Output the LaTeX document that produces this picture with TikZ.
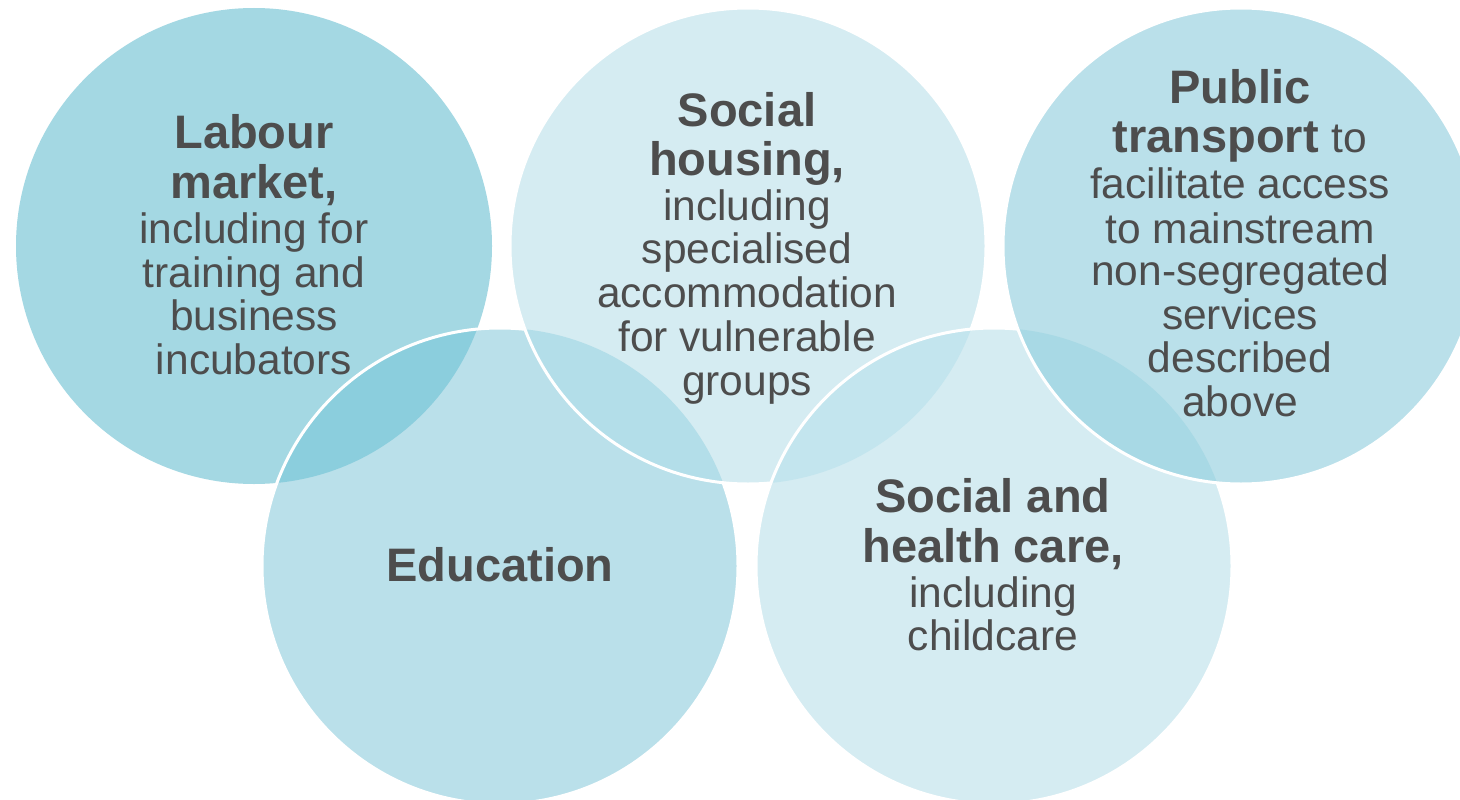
\documentclass[tikz,border=0pt]{standalone}
\usepackage{fontspec}
\setmainfont{Liberation Sans}
\definecolor{cLab}{HTML}{A4D8E3}
\definecolor{cEdu}{HTML}{BAE0EA}
\definecolor{cHou}{HTML}{D5ECF2}
\definecolor{cCar}{HTML}{D5ECF2}
\definecolor{cTra}{HTML}{BAE0EA}
\definecolor{cLabEdu}{HTML}{8BCEDD}
\definecolor{cEduHou}{HTML}{B3DEE9}
\definecolor{cHouCar}{HTML}{C3E5EE}
\definecolor{cCarTra}{HTML}{A8D9E5}
\definecolor{txtgray}{HTML}{4D4D4D}
\newcommand\bo{\fontsize{47}{50}\selectfont\bfseries}
\newcommand\rg{\fontsize{42.5}{44}\selectfont\mdseries}
\newcommand\rowx[2]{\vrule height #1pt width 0pt depth 0pt\smash{#2}\cr}
\newcommand\stackl[1]{\vtop{\offinterlineskip\halign{\hfil##\hfil\cr#1}}}
\tikzset{
  outl/.style={draw=white,line width=3pt},
  lbl/.style={anchor=base,inner sep=0pt,text=txtgray}
}
\begin{document}
\begin{tikzpicture}[x=1pt,y=-1pt]
\useasboundingbox (0,0) rectangle (1460,800);
\fill[white] (0,0) rectangle (1460,800);
\coordinate (cL) at (254,246);
\coordinate (cH) at (748,246);
\coordinate (cT) at (1241,246);
\coordinate (cE) at (500,566);
\coordinate (cC) at (994,566);
% Labour market
\fill[cLab] (cL) circle[radius=238pt];
% Education
\fill[cEdu] (cE) circle[radius=238pt];
\begin{scope}
  \clip (cE) circle[radius=238pt];
  \fill[cLabEdu] (cL) circle[radius=238pt];
\end{scope}
\draw[outl] (cE) circle[radius=238pt];
% Social housing
\fill[cHou] (cH) circle[radius=238pt];
\begin{scope}
  \clip (cH) circle[radius=238pt];
  \fill[cEduHou] (cE) circle[radius=238pt];
\end{scope}
\draw[outl] (cH) circle[radius=238pt];
% Social and health care
\fill[cCar] (cC) circle[radius=238pt];
\begin{scope}
  \clip (cC) circle[radius=238pt];
  \fill[cHouCar] (cH) circle[radius=238pt];
\end{scope}
\draw[outl] (cC) circle[radius=238pt];
% Public transport
\fill[cTra] (cT) circle[radius=238pt];
\begin{scope}
  \clip (cT) circle[radius=238pt];
  \fill[cCarTra] (cC) circle[radius=238pt];
\end{scope}
\draw[outl] (cT) circle[radius=238pt];
% Texts
\node[lbl] (tLab) at (254,148) {\stackl{%
  \rowx{0}{\bo Labour}%
  \rowx{50}{\bo market,}%
  \rowx{45}{\rg including for}%
  \rowx{44}{\rg training and}%
  \rowx{44}{\rg business}%
  \rowx{43}{\rg incubators}}};
\node[lbl] (tHou) at (747,126) {\stackl{%
  \rowx{0}{\bo Social}%
  \rowx{49}{\bo housing,}%
  \rowx{45}{\rg including}%
  \rowx{44}{\rg specialised}%
  \rowx{44}{\rg accommodation}%
  \rowx{44}{\rg for vulnerable}%
  \rowx{44}{\rg groups}}};
\node[lbl] (tTra) at (1240,103) {\stackl{%
  \rowx{0}{\bo Public}%
  \rowx{49}{\bo transport \rg to}%
  \rowx{46}{\rg facilitate access}%
  \rowx{45}{\rg to mainstream}%
  \rowx{43}{\rg non-segregated}%
  \rowx{44}{\rg services}%
  \rowx{43}{\rg described}%
  \rowx{44}{\rg above}}};
\node[lbl] (tEdu) at (500,581) {\bo Education};
\node[lbl] (tCar) at (993,512) {\stackl{%
  \rowx{0}{\bo Social and}%
  \rowx{50}{\bo health care,}%
  \rowx{45}{\rg including}%
  \rowx{43}{\rg childcare}}};
\end{tikzpicture}
\end{document}
